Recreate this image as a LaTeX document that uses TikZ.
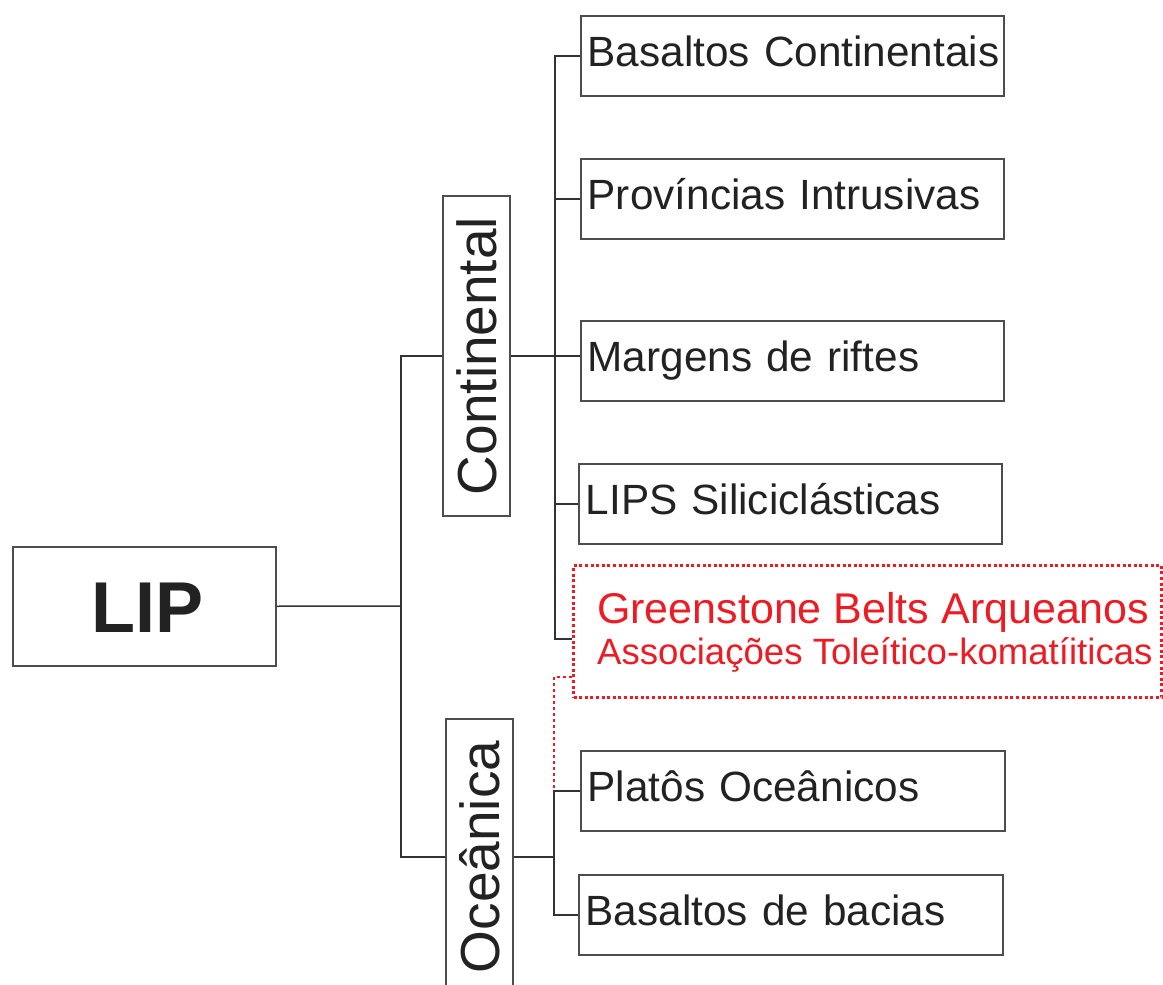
\documentclass[tikz,border=0pt]{standalone}
\usepackage{fontspec}
\setmainfont{Liberation Sans}
\definecolor{boxgray}{HTML}{4D4D4D}
\definecolor{linegray}{HTML}{333333}
\definecolor{lipred}{HTML}{ED1C24}
\definecolor{txt}{HTML}{222222}
\begin{document}
\begin{tikzpicture}[x=1pt,y=-1pt,
  box/.style={draw=boxgray, line width=1.5pt, rectangle, inner sep=0pt, text=txt},
  leaf/.style={box, anchor=north west, minimum height=80pt, align=left,
    inner xsep=7pt, font=\fontsize{42.3}{50}\selectfont, text height=30pt, text depth=9pt},
  vbox/.style={box, rotate=90, minimum height=67pt, font=\fontsize{55}{60}\selectfont,
    text height=39pt, text depth=0pt},
  conn/.style={draw=linegray, line width=1.5pt},
  reddots/.style={draw=lipred, line width=3pt, dash pattern=on 3pt off 2.6pt},
  redthin/.style={draw=lipred, line width=1.3pt, dash pattern=on 3pt off 3pt},
  redtext/.style={text=lipred, inner sep=0pt, anchor=base west}
]
\useasboundingbox (0,0) rectangle (1163,985);
\clip (0,0) rectangle (1163,985);

% root
\node[box, anchor=north west, minimum width=263pt, minimum height=119pt,
  font=\fontsize{72}{80}\selectfont\bfseries, text height=52pt, text depth=0pt,
  inner xsep=0pt] (lip) at (12,546) {\hspace*{6pt}LIP};

% second level
\node[vbox, minimum width=320pt] (cont) at (476.5,356) {Continental};
\node[vbox, minimum width=276pt] (oce) at (479.5,857) {Oceânica};

% leaves
\node[leaf, text width=409pt] (b1) at (580,15) {\mbox{Basaltos Continentais}};
\node[leaf, text width=409pt] (b2) at (580,158) {\mbox{Províncias Intrusivas}};
\node[leaf, text width=409pt] (b3) at (580,320) {\mbox{Margens de riftes}};
\node[leaf, text width=409pt] (b4) at (578,463) {\mbox{LIPS Siliciclásticas}};
\node[leaf, text width=410pt] (p1) at (580,750) {\mbox{Platôs Oceânicos}};
\node[leaf, text width=410pt] (p2) at (578,874) {\mbox{Basaltos de bacias}};

% red dotted box
\node[reddots, rectangle, anchor=north west, minimum width=588pt, minimum height=132pt,
  inner sep=0pt] (gbox) at (572,564) {};
\node[redtext, font=\fontsize{43}{50}\selectfont] (g1) at (597,623) {Greenstone Belts Arqueanos};
\node[redtext, font=\fontsize{36.6}{42}\selectfont] (g2) at (597,664) {Associações Toleítico-komatíiticas};

% connectors
\coordinate (jl) at (401,606);
\coordinate (gc) at (572,639);
\coordinate (rd) at (554,677);
\draw[conn] (lip.east) -- (jl);
\draw[conn] (cont.north) -| (jl);
\draw[conn] (oce.north) -| (jl);

\draw[conn] (b1.west) -- ++(-25,0) |- (gc);
\draw[conn] (b2.west) -- ++(-25,0);
\draw[conn] (b4.west) -- ++(-23,0);
\draw[conn] (cont.south) -- (cont.south -| b3.west);

\draw[conn] (oce.south) -- ++(41,0);
\draw[conn] (p1.west) -- ++(-26,0) |- (p2.west);

\draw[redthin] (rd -| gbox.west) -- (rd) -- (rd |- p1.west);
\end{tikzpicture}
\end{document}
